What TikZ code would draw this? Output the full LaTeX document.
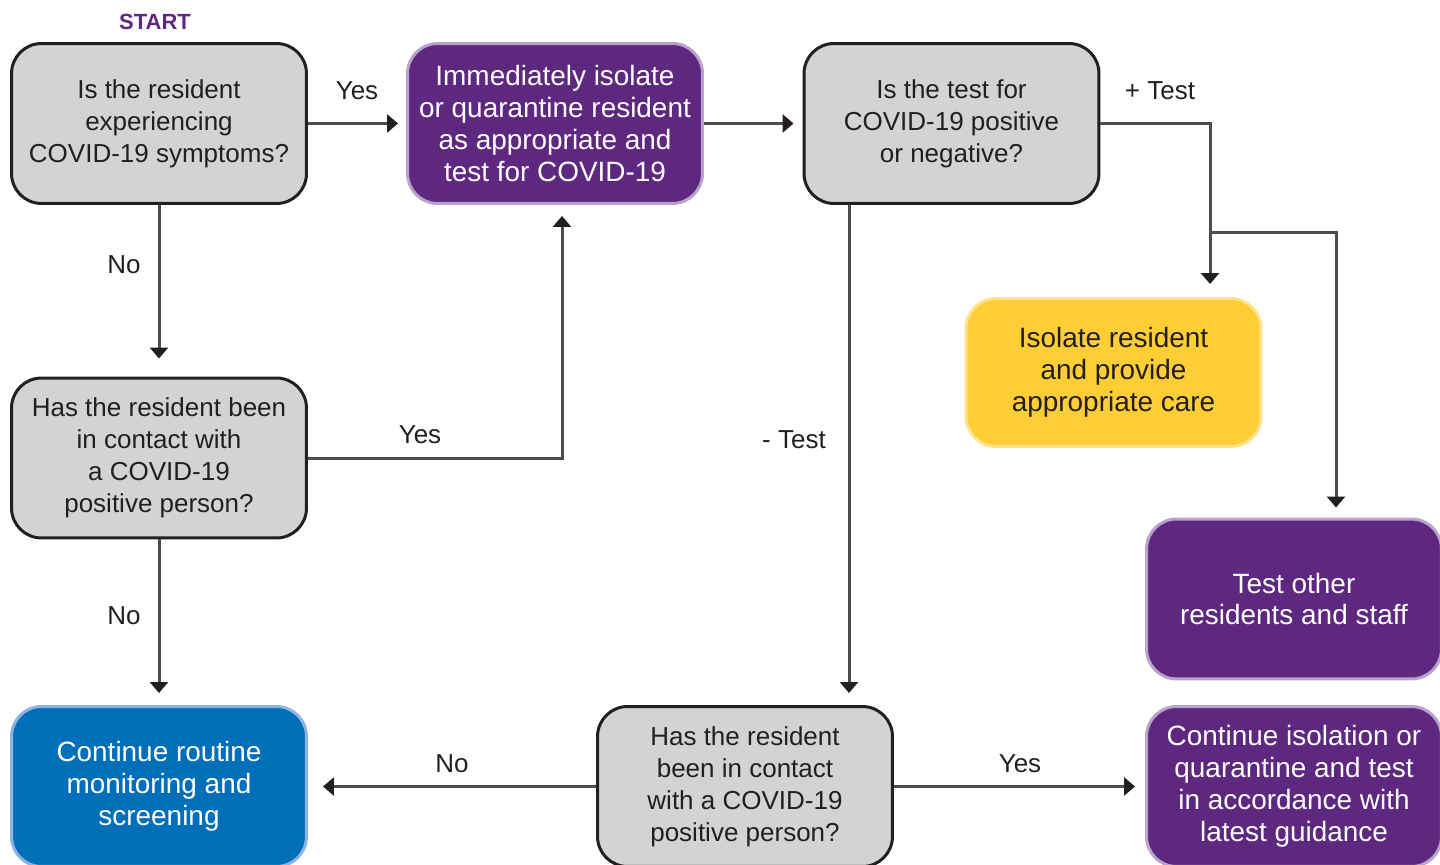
\documentclass[tikz,border=0pt]{standalone}
\usepackage{fontspec}
\setmainfont{Liberation Sans}
\usetikzlibrary{arrows.meta}
\definecolor{boxgray}{HTML}{D1D3D4}
\definecolor{boxline}{HTML}{231F20}
\definecolor{covpurple}{HTML}{5E2780}
\definecolor{covpurpleline}{HTML}{B9A3CC}
\definecolor{covyellow}{HTML}{FFCD34}
\definecolor{covyellowline}{HTML}{FFE38C}
\definecolor{covblue}{HTML}{006FBA}
\definecolor{covblueline}{HTML}{8DB3E2}
\definecolor{flowline}{HTML}{4D4D4D}
\begin{document}
\begin{tikzpicture}[x=0.02cm,y=-0.02cm,
  box/.style={rounded corners=0.6cm,line width=0.06cm,minimum width=5.9cm,
    minimum height=3.2cm,align=center,inner sep=0pt,
    font=\fontsize{14.8}{18.2}\selectfont},
  question/.style={box,draw=boxline,fill=boxgray,text=boxline},
  colored/.style={box,font=\fontsize{15.9}{18.2}\selectfont},
  action/.style={colored,draw=covpurpleline,fill=covpurple,text=white},
  caution/.style={colored,draw=covyellowline,fill=covyellow,text=boxline,minimum height=2.96cm},
  routine/.style={colored,draw=covblueline,fill=covblue,text=white},
  flow/.style={draw=flowline,line width=0.06cm,shorten >=0.2cm,
    -{Triangle[width=0.36cm,length=0.22cm,color=boxline]}},
  lbl/.style={font=\fontsize{14.8}{18.2}\selectfont,text=boxline,inner sep=0pt}]
  \clip (0,0) rectangle (1440,865);
  % boxes
  \node[font=\bfseries\fontsize{12.5}{15}\selectfont,text=covpurple] (start) at (155,22) {START};
  \node[question] (symptoms) at (159,123.5) {Is the resident\\experiencing\\COVID-19 symptoms?};
  \node[action] (isolate) at (555,123.5) {Immediately isolate\\or quarantine resident\\as appropriate and\\test for COVID-19};
  \node[question] (result) at (951.5,123.5) {Is the test for\\COVID-19 positive\\or negative?};
  \node[caution] (care) at (1113.5,372.5) {Isolate resident\\and provide\\appropriate care};
  \node[action] (others) at (1294,599) {Test other\\residents and staff};
  \node[question] (contact) at (159,458) {Has the resident been\\in contact with\\a COVID-19\\positive person?};
  \node[routine] (monitor) at (159,786.5) {Continue routine\\monitoring and\\screening};
  \node[question] (contacttwo) at (745,786.5) {Has the resident\\been in contact\\with a COVID-19\\positive person?};
  \node[action] (guidance) at (1294,786.5) {Continue isolation or\\quarantine and test\\in accordance with\\latest guidance};
  % connectors
  \coordinate (postest) at (1210,232);
  \coordinate (otherstap) at (1336,232);
  \draw[flow,shorten >=0.16cm] (symptoms) -- (isolate);
  \draw[flow,shorten >=0.36cm] (symptoms) -- (contact);
  \draw[flow,shorten >=0.22cm] (contact.east) -| ([xshift=0.14cm]isolate.south);
  \draw[flow,shorten >=0.18cm] (isolate) -- (result);
  \draw[flow,shorten >=0.26cm] (result.east) -| (postest) -- (postest |- care.north);
  \draw[flow] (postest) -- (otherstap) -- (otherstap |- others.north);
  \draw[flow,shorten >=0.24cm] ([xshift=-2.05cm]result.south) -- ([xshift=-2.05cm]result.south |- contacttwo.north);
  \draw[flow,shorten >=0.3cm] (contacttwo) -- (monitor);
  \draw[flow] (contacttwo) -- (guidance);
  \draw[flow,shorten >=0.24cm] (contact) -- (monitor);
  % labels
  \node[lbl] (yesone) at (357,91) {Yes};
  \node[lbl] (noone) at (124,265) {No};
  \node[lbl] (yestwo) at (420,435) {Yes};
  \node[lbl] (notwo) at (124,616) {No};
  \node[lbl] (postestlbl) at (1160,91) {+ Test};
  \node[lbl] (negtestlbl) at (794,440) {- Test};
  \node[lbl] (nothree) at (452,764) {No};
  \node[lbl] (yesthree) at (1020,764) {Yes};
\end{tikzpicture}
\end{document}
